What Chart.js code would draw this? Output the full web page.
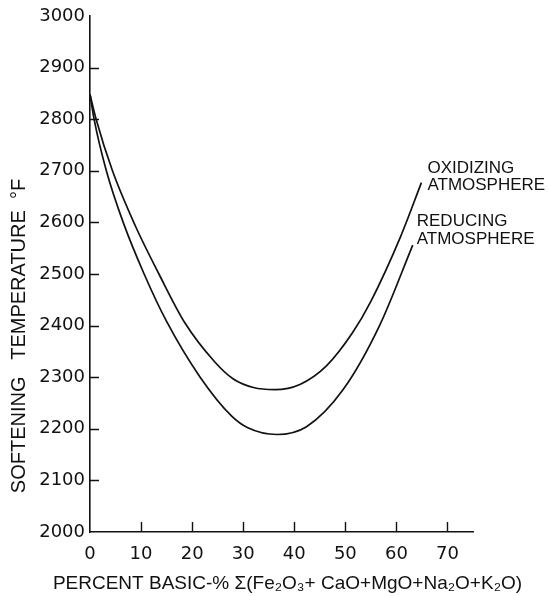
<!DOCTYPE html>
<html><head><meta charset="utf-8">
<script src="https://cdn.jsdelivr.net/npm/chart.js@4"></script>
<style>html,body{margin:0;padding:0;background:#fff}canvas{display:block}</style>
</head><body>
<canvas id="c" width="550" height="596"></canvas>
<script>
// ---- data ----
const oxidizingX = [0, 1.2, 4.4, 8.8, 13.5, 18.6, 24.4, 28.0, 32.0, 36.2, 41.1, 46.3, 51.4, 55.0, 60.8, 64.9];
const oxidizingY = [2848, 2800, 2700, 2595, 2500, 2405, 2330, 2297, 2280, 2276, 2286, 2322, 2386, 2447, 2572, 2677];
const reducingX = [0, 0.8, 3.2, 6.5, 10.6, 15.0, 21.5, 27.7, 30.9, 36.6, 42.4, 49.5, 56.7, 63.2];
const reducingY = [2848, 2800, 2700, 2600, 2500, 2408, 2301, 2225, 2202, 2189, 2204, 2275, 2400, 2556];
const xTickValues = [0, 10, 20, 30, 40, 50, 60, 70];
const yTickValues = [2000, 2100, 2200, 2300, 2400, 2500, 2600, 2700, 2800, 2900, 3000];
const oxidizingLabel = ['OXIDIZING', 'ATMOSPHERE'];
const reducingLabel = ['REDUCING', 'ATMOSPHERE'];
const xTitle = 'PERCENT BASIC-% \u03A3(Fe\u2082O\u2083+ CaO+MgO+Na\u2082O+K\u2082O)';
const yTitle = 'SOFTENING   TEMPERATURE  \u00B0F';

const toPoints = (xs, ys) => xs.map((x, i) => ({x, y: ys[i]}));
const SANS = '"Liberation Sans", Arial, sans-serif';
const INK = '#111';

const decorPlugin = {
  id: 'decor',
  afterDraw(chart) {
    const ctx = chart.ctx;
    const xs = chart.scales.x, ys = chart.scales.y;
    const area = chart.chartArea;
    ctx.save();
    // inward tick marks on both axes
    ctx.strokeStyle = INK;
    ctx.lineWidth = 1.4;
    ctx.beginPath();
    xs.ticks.forEach(t => {
      if (t.value === 0) return;
      const px = Math.round(xs.getPixelForValue(t.value)) + 0.5;
      ctx.moveTo(px, area.bottom); ctx.lineTo(px, area.bottom - 10);
    });
    ys.ticks.forEach(t => {
      if (t.value === 2000 || t.value === 3000) return;
      const py = Math.round(ys.getPixelForValue(t.value)) + 0.5;
      ctx.moveTo(area.left, py); ctx.lineTo(area.left + 9, py);
    });
    ctx.stroke();

    // curve labels
    ctx.fillStyle = INK;
    ctx.font = '17px ' + SANS;
    ctx.textAlign = 'left';
    ctx.textBaseline = 'alphabetic';
    const ox = xs.getPixelForValue(oxidizingX[oxidizingX.length - 1]);
    const oy = ys.getPixelForValue(oxidizingY[oxidizingY.length - 1]);
    ctx.fillText(oxidizingLabel[0], ox + 6, oy - 10);
    ctx.fillText(oxidizingLabel[1], ox + 6, oy + 7);
    const rx = xs.getPixelForValue(reducingX[reducingX.length - 1]);
    const ry = ys.getPixelForValue(reducingY[reducingY.length - 1]);
    ctx.fillText(reducingLabel[0], rx + 4, ry - 19);
    ctx.fillText(reducingLabel[1], rx + 4, ry - 1);

    // x axis title
    ctx.font = '19px ' + SANS;
    ctx.textAlign = 'center';
    ctx.textBaseline = 'middle';
    ctx.fillText(xTitle, (area.left + area.right) / 2 + 6, area.bottom + 52);

    // y axis title
    ctx.font = '20px ' + SANS;
    ctx.translate(19, area.bottom - 196);
    ctx.rotate(-Math.PI / 2);
    ctx.fillText(yTitle, 0, 0);
    ctx.restore();
  }
};

new Chart(document.getElementById('c'), {
  type: 'line',
  data: {
    datasets: [
      {label: 'Oxidizing atmosphere', data: toPoints(oxidizingX, oxidizingY)},
      {label: 'Reducing atmosphere', data: toPoints(reducingX, reducingY)}
    ]
  },
  options: {
    responsive: false,
    animation: false,
    devicePixelRatio: 1,
    layout: {padding: {top: 16, right: 77, left: 0, bottom: 0}},
    elements: {
      line: {borderColor: INK, borderWidth: 1.7, cubicInterpolationMode: 'monotone', fill: false},
      point: {radius: 0, hoverRadius: 0}
    },
    plugins: {legend: {display: false}, tooltip: {enabled: false}},
    scales: {
      x: {
        type: 'linear', min: 0, max: 75,
        afterBuildTicks: s => { s.ticks = xTickValues.map(v => ({value: v})); },
        afterFit: s => { s.height = 64; },
        border: {display: true, color: INK, width: 1.6},
        grid: {drawOnChartArea: false, drawTicks: false},
        ticks: {color: INK, padding: 12, maxRotation: 0, font: {family: '"DejaVu Sans", sans-serif', size: 18}},
        title: {display: false}
      },
      y: {
        type: 'linear', min: 2000, max: 3000,
        afterBuildTicks: s => { s.ticks = yTickValues.map(v => ({value: v})); },
        afterFit: s => { s.width = 90; },
        border: {display: true, color: INK, width: 1.6},
        grid: {drawOnChartArea: false, drawTicks: false},
        ticks: {color: INK, padding: 5, callback: v => String(v), font: {family: '"DejaVu Sans", sans-serif', size: 18}},
        title: {display: false}
      }
    }
  },
  plugins: [decorPlugin]
});
</script>
</body></html>
